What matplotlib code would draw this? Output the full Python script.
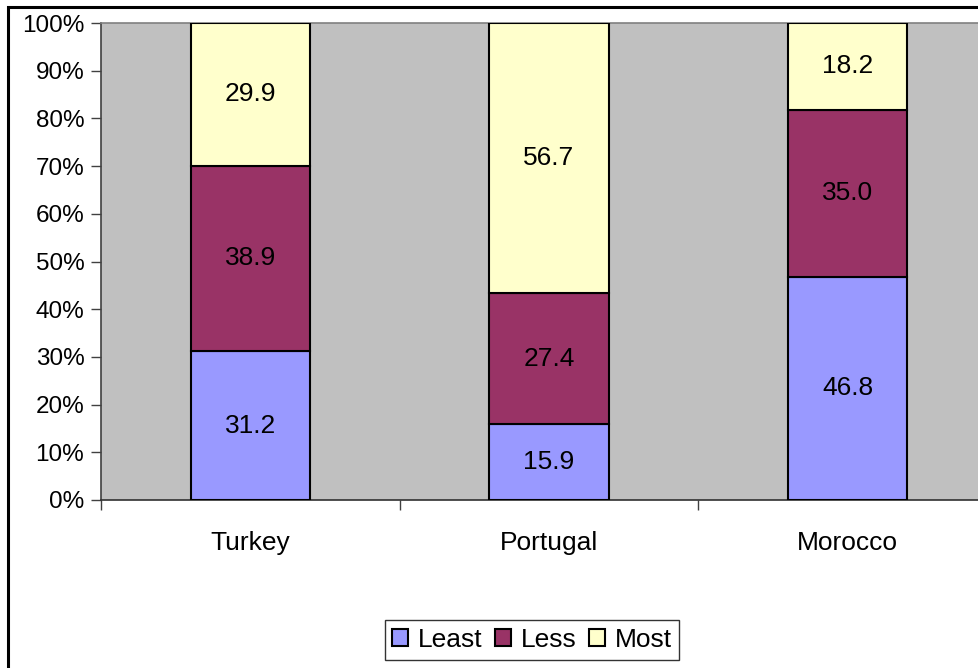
import matplotlib
matplotlib.use("Agg")
import numpy as np
import matplotlib.pyplot as plt
from matplotlib.patches import Rectangle, Patch

plt.rcParams["font.family"] = ["Liberation Sans", "DejaVu Sans"]

countries = ["Turkey", "Portugal", "Morocco"]
least = [31.2, 15.9, 46.8]
less = [38.9, 27.4, 35.0]
most = [29.9, 56.7, 18.2]
series_names = ["Least", "Less", "Most"]
colors = ["#9999FF", "#993366", "#FFFFCC"]

W, H = 979, 668
fig = plt.figure(figsize=(W / 100, H / 100), dpi=100)

# outer chart frame (cropped on right and bottom)
fig.patches.append(Rectangle((8 / W, -0.1), 1.2, 1 - 7 / H + 0.1,
                             transform=fig.transFigure, fill=False,
                             edgecolor="black", linewidth=2.2))

ax = fig.add_axes([101 / W, 1 - 500 / H, 896 / W, 477 / H])
ax.set_facecolor("#C0C0C0")

x = np.arange(len(countries))
bottom = np.zeros(len(countries))
for vals, col in zip([least, less, most], colors):
    vals = np.array(vals)
    ax.bar(x, vals, width=0.4, bottom=bottom, color=col,
           edgecolor="black", linewidth=1.5, zorder=3)
    for xi, b, v in zip(x, bottom, vals):
        ax.text(xi, b + v / 2, f"{v:.1f}", ha="center", va="center",
                fontsize=19, zorder=4)
    bottom += vals

ax.set_xlim(-0.5, 2.5)
ax.set_ylim(0, 100)
ax.set_yticks(np.arange(0, 101, 10))
ax.set_yticklabels([f"{v}%" for v in range(0, 101, 10)], fontsize=17.5)
ax.set_xticks([-0.5, 0.5, 1.5, 2.5])
ax.set_xticklabels([])
ax.set_xticks(x, minor=True)
ax.set_xticklabels(countries, minor=True, fontsize=19)
ax.tick_params(axis="x", which="minor", length=0, pad=22)
ax.tick_params(axis="x", which="major", length=7, width=1, color="#404040")
ax.tick_params(axis="y", length=7, width=1, color="#404040", pad=5)

ax.spines["top"].set_color("#808080")
ax.spines["right"].set_visible(False)
ax.spines["left"].set_color("#404040")
ax.spines["bottom"].set_color("#303030")
for s in ["top", "left", "bottom"]:
    ax.spines[s].set_linewidth(1.2)

handles = [Patch(facecolor=c, edgecolor="black", linewidth=1.5) for c in colors]
leg = fig.legend(handles, series_names, loc="center",
                 bbox_to_anchor=(532 / W, 1 - 640 / H), ncol=3,
                 fontsize=19, frameon=True, fancybox=False,
                 handlelength=0.6, handleheight=0.6, handletextpad=0.35,
                 columnspacing=0.5, borderpad=0.3)
leg.get_frame().set_edgecolor("black")
leg.get_frame().set_linewidth(1.0)

fig.savefig("out.png", dpi=100)
